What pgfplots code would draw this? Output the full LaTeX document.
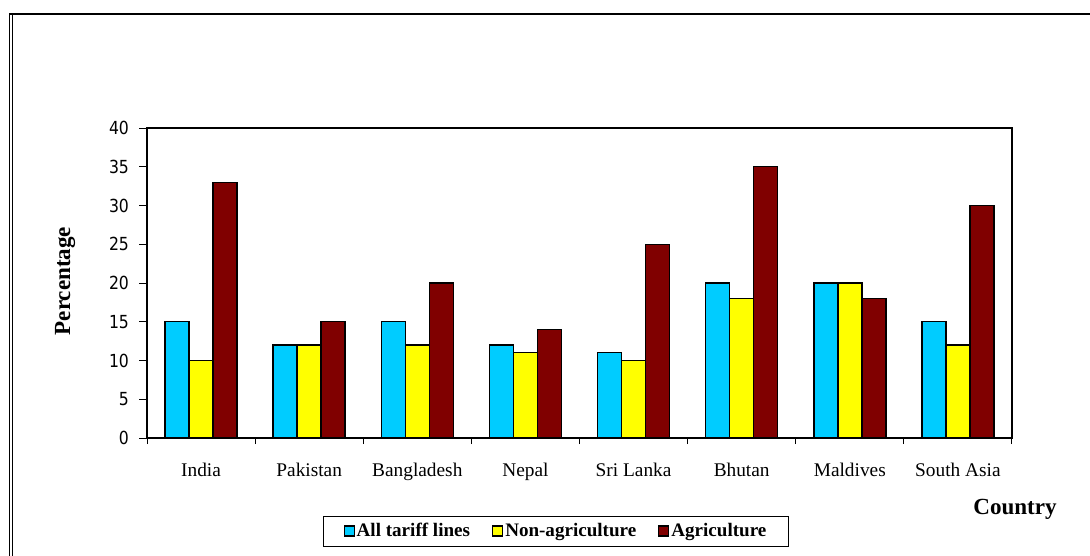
\documentclass[border=0pt]{standalone}
\usepackage{fontspec}
\setmainfont{Liberation Serif}
\newfontfamily\tickfont[FakeStretch=0.87]{DejaVu Sans}
\usepackage{pgfplots}
\pgfplotsset{compat=1.18}
\usepackage{pgfplotstable}

\definecolor{allc}{RGB}{0,204,255}
\definecolor{nonag}{RGB}{255,255,0}
\definecolor{agri}{RGB}{128,0,0}

% Average tariff rates by country (percent)
\pgfplotstableread{
x all non agri
0 15 10 33
1 12 12 15
2 15 12 20
3 12 11 14
4 11 10 25
5 20 18 35
6 20 20 18
7 15 12 30
}\tariffs

\newcommand\catfont{\fontsize{14.5}{16}\selectfont}
\newcommand\titlefont{\fontsize{17.3}{19}\selectfont\bfseries}
\newcommand\legfont{\fontsize{14.3}{16}\selectfont\bfseries}

\begin{document}
\begin{tikzpicture}
\useasboundingbox (0,0) rectangle (817.5pt,-417pt);
\begin{scope}
  \clip (0,0) rectangle (817.5pt,-417pt);
  \draw[line width=1.4pt] (7.1pt,-430pt) -- (7.1pt,-10.5pt) -- (830pt,-10.5pt);
  \draw[line width=0.6pt] (9.4pt,-430pt) -- (9.4pt,-10.5pt);
\end{scope}

\begin{axis}[
  at={(110.25pt,-328.5pt)}, anchor=south west,
  scale only axis, width=648.75pt, height=232.5pt,
  ybar=0pt, bar width=18pt,
  xmin=-0.5, xmax=7.5, ymin=0, ymax=40,
  ytick={0,5,...,40},
  xtick={0,...,7},
  xticklabels={India,Pakistan,Bangladesh,Nepal,Sri Lanka,Bhutan,Maldives,South Asia},
  minor xtick={-0.5,0.5,...,7.5},
  tick pos=left, tick align=outside,
  major tick length=6pt, minor tick length=4.5pt,
  x tick style={draw=none},
  minor x tick style={draw=black, line width=0.75pt},
  y tick style={black, line width=0.75pt},
  axis line style={black, line width=1pt},
  yticklabel style={font=\tickfont\fontsize{13.5}{15}\selectfont, xshift=-4pt},
  xticklabel style={font=\catfont, yshift=-9.5pt},
  /pgf/number format/assume math mode=true,
  legend columns=3,
  legend style={at={(0.4728,-0.30)}, anchor=center, draw=black, line width=0.6pt,
    font=\legfont, /tikz/every even column/.append style={column sep=15pt},
    nodes={inner xsep=1.5pt, inner ysep=2pt},
    inner xsep=15pt, inner ysep=3.5pt},
  legend image code/.code={\draw[#1, line width=0.9pt] (0pt,-3.75pt) rectangle (7.5pt,3.75pt);},
  every axis plot/.append style={draw=black, line width=1.1pt},
]
\addplot[fill=allc] table[x=x, y=all] {\tariffs};
\addplot[fill=nonag] table[x=x, y=non] {\tariffs};
\addplot[fill=agri] table[x=x, y=agri] {\tariffs};
\legend{All tariff lines, Non-agriculture, Agriculture}
\end{axis}

\node[rotate=90, font=\titlefont] at (48.75pt,-210.75pt) {Percentage};
\node[font=\titlefont] at (761.25pt,-381.75pt) {Country};
\end{tikzpicture}
\end{document}
